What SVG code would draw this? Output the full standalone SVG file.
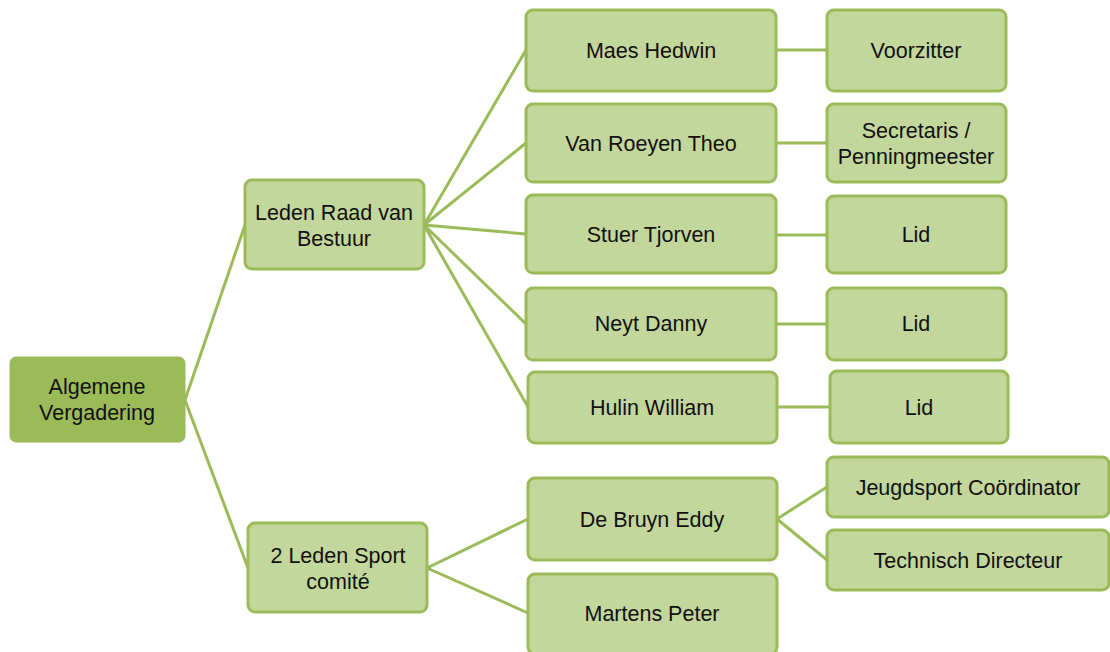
<svg xmlns="http://www.w3.org/2000/svg" width="1110" height="652" viewBox="0 0 1110 652">
  <style>
    .box { fill: #C3D69B; stroke: #9BBB59; stroke-width: 3; }
    .root { fill: #9BBB59; stroke: #9BBB59; stroke-width: 1; }
    .lbl { font-family: "Liberation Sans", Arial, sans-serif; font-size: 21.5px; fill: #111; text-anchor: middle; }
    .links line { stroke: #9BBB59; stroke-width: 3; }
  </style>
  <rect width="1110" height="652" fill="#fff"/>

  <g id="connectors" class="links">
    <line x1="185" y1="400" x2="245" y2="225"/>
    <line x1="185" y1="400" x2="248" y2="568"/>
    <line x1="424" y1="225" x2="526" y2="50"/>
    <line x1="424" y1="225" x2="526" y2="143"/>
    <line x1="424" y1="225" x2="526" y2="234"/>
    <line x1="424" y1="225" x2="526" y2="324"/>
    <line x1="424" y1="225" x2="528" y2="407"/>
    <line x1="427" y1="568" x2="528" y2="519"/>
    <line x1="427" y1="568" x2="528" y2="613"/>
    <line x1="776" y1="50" x2="827" y2="50"/>
    <line x1="776" y1="143" x2="827" y2="143"/>
    <line x1="776" y1="235" x2="827" y2="235"/>
    <line x1="776" y1="324" x2="827" y2="324"/>
    <line x1="777" y1="407" x2="830" y2="407"/>
    <line x1="777" y1="519" x2="827" y2="487"/>
    <line x1="777" y1="519" x2="827" y2="560"/>
  </g>

  <g id="algemene-vergadering">
    <rect class="root" x="10" y="357" width="175" height="85" rx="6"/>
    <text class="lbl" x="97" y="394">Algemene</text>
    <text class="lbl" x="97" y="420">Vergadering</text>
  </g>

  <g id="raad-van-bestuur">
    <rect class="box" x="245" y="180" width="179" height="89" rx="7"/>
    <text class="lbl" x="334" y="220">Leden Raad van</text>
    <text class="lbl" x="334" y="246">Bestuur</text>
  </g>

  <g id="sport-comite">
    <rect class="box" x="248" y="523" width="179" height="89" rx="7"/>
    <text class="lbl" x="338" y="563">2 Leden Sport</text>
    <text class="lbl" x="338" y="589">comité</text>
  </g>

  <g id="maes-hedwin">
    <rect class="box" x="526" y="10" width="250" height="81" rx="7"/>
    <text class="lbl" x="651" y="58">Maes Hedwin</text>
  </g>
  <g id="van-roeyen-theo">
    <rect class="box" x="526" y="104" width="250" height="78" rx="7"/>
    <text class="lbl" x="651" y="151">Van Roeyen Theo</text>
  </g>
  <g id="stuer-tjorven">
    <rect class="box" x="526" y="195" width="250" height="78" rx="7"/>
    <text class="lbl" x="651" y="242">Stuer Tjorven</text>
  </g>
  <g id="neyt-danny">
    <rect class="box" x="526" y="288" width="250" height="72" rx="7"/>
    <text class="lbl" x="651" y="331">Neyt Danny</text>
  </g>
  <g id="hulin-william">
    <rect class="box" x="528" y="372" width="249" height="71" rx="7"/>
    <text class="lbl" x="652" y="415">Hulin William</text>
  </g>
  <g id="de-bruyn-eddy">
    <rect class="box" x="528" y="478" width="249" height="82" rx="7"/>
    <text class="lbl" x="652" y="527">De Bruyn Eddy</text>
  </g>
  <g id="martens-peter">
    <rect class="box" x="528" y="574" width="249" height="80" rx="7"/>
    <text class="lbl" x="652" y="621">Martens Peter</text>
  </g>

  <g id="voorzitter">
    <rect class="box" x="827" y="10" width="179" height="81" rx="7"/>
    <text class="lbl" x="916" y="58">Voorzitter</text>
  </g>
  <g id="secretaris">
    <rect class="box" x="827" y="104" width="179" height="78" rx="7"/>
    <text class="lbl" x="916" y="138">Secretaris /</text>
    <text class="lbl" x="916" y="164">Penningmeester</text>
  </g>
  <g id="lid-1">
    <rect class="box" x="827" y="196" width="179" height="77" rx="7"/>
    <text class="lbl" x="916" y="242">Lid</text>
  </g>
  <g id="lid-2">
    <rect class="box" x="827" y="288" width="179" height="72" rx="7"/>
    <text class="lbl" x="916" y="331">Lid</text>
  </g>
  <g id="lid-3">
    <rect class="box" x="830" y="371" width="178" height="72" rx="7"/>
    <text class="lbl" x="919" y="415">Lid</text>
  </g>
  <g id="jeugdsport-coordinator">
    <rect class="box" x="827" y="457" width="282" height="60" rx="7"/>
    <text class="lbl" x="968" y="495">Jeugdsport Coördinator</text>
  </g>
  <g id="technisch-directeur">
    <rect class="box" x="827" y="530" width="282" height="60" rx="7"/>
    <text class="lbl" x="968" y="568">Technisch Directeur</text>
  </g>
</svg>
